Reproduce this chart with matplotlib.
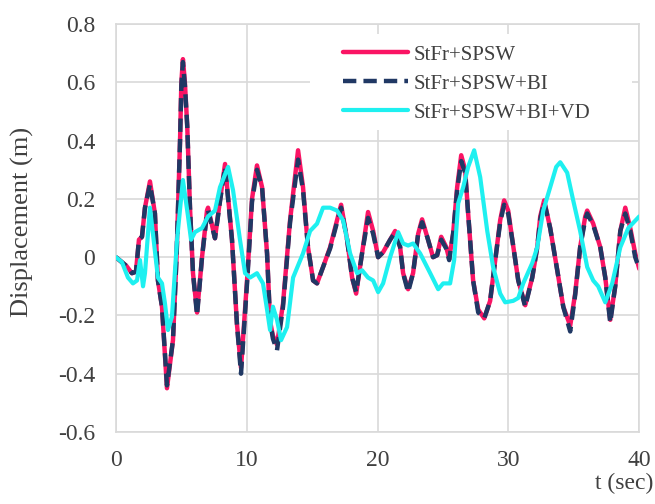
import matplotlib
matplotlib.use('Agg')
import matplotlib.pyplot as plt
from matplotlib.patches import Rectangle

# time (sec) and displacement (m)
t_sw = [0, 0.8, 1.22, 1.53, 1.76, 1.99, 2.22, 2.6, 2.98, 3.21, 3.52, 3.9, 4.36, 4.64,
        4.9, 5.0, 5.12, 5.27, 5.45, 5.66, 5.89, 6.2, 6.58, 6.96, 7.04, 7.57, 7.95, 8.34, 8.87,
        9.25, 9.56, 10.02, 10.4, 10.78, 11.17, 11.55, 11.78, 12.0, 12.31, 12.77, 13.31,
        13.92, 14.3, 14.68, 15.07, 15.37, 15.83, 16.37, 16.9, 17.21, 17.67, 18.05, 18.36,
        18.81, 19.27, 19.66, 20.04, 20.42, 20.96, 21.34, 21.72, 21.95, 22.33, 22.71, 23.1,
        23.4, 23.79, 24.24, 24.55, 24.86, 25.24, 25.47, 25.77, 26.08, 26.39, 26.69, 26.92,
        27.3, 27.69, 28.15, 28.6, 28.99, 29.37, 29.67, 29.98, 30.36, 30.75, 31.28, 31.82,
        32.2, 32.43, 32.73, 33.19, 33.73, 34.19, 34.72, 35.1, 35.48, 35.87, 36.02, 36.48,
        37.02, 37.4, 37.78, 38.16, 38.55, 38.93, 39.31, 39.69, 40.0]

d_sw = [0, -0.03, -0.055, -0.05, 0.06, 0.07, 0.17, 0.26, 0.15, -0.08, -0.17, -0.45, -0.285,
        0.01, 0.40, 0.6, 0.68, 0.6, 0.45, 0.17, -0.055, -0.19, 0.0, 0.16, 0.17, 0.065, 0.195, 0.32,
        0.06, -0.23, -0.38, -0.08, 0.2, 0.315, 0.24, 0.013, -0.22, -0.27, -0.30, -0.16,
        0.127, 0.367, 0.24, 0.034, -0.08, -0.09, -0.034, 0.034, 0.127, 0.18, 0.06, -0.07,
        -0.125, 0.013, 0.155, 0.09, 0.0, 0.017, 0.06, 0.09, 0.035, -0.055, -0.11, -0.055,
        0.08, 0.13, 0.07, 0.0, 0.007, 0.07, 0.035, -0.005, 0.08, 0.24, 0.35, 0.30, 0.15,
        -0.08, -0.18, -0.21, -0.15, -0.01, 0.127, 0.195, 0.16, 0.04, -0.08, -0.165, -0.07,
        0.034, 0.14, 0.195, 0.10, -0.045, -0.17, -0.235, -0.125, 0.034, 0.14, 0.16, 0.115,
        0.034, -0.07, -0.215, -0.10, 0.09, 0.17, 0.10, 0.013, -0.04]

d_bi = [0, -0.03, -0.055, -0.05, 0.06, 0.07, 0.17, 0.25, 0.15, -0.08, -0.17, -0.44, -0.285,
        0.01, 0.40, 0.59, 0.67, 0.59, 0.45, 0.17, -0.055, -0.20, 0.0, 0.15, 0.16, 0.065, 0.19, 0.31,
        0.06, -0.23, -0.40, -0.09, 0.19, 0.30, 0.24, 0.013, -0.22, -0.28, -0.32, -0.17,
        0.12, 0.335, 0.23, 0.034, -0.08, -0.09, -0.034, 0.03, 0.12, 0.17, 0.06, -0.07,
        -0.12, 0.013, 0.135, 0.08, 0.0, 0.017, 0.06, 0.085, 0.035, -0.055, -0.12, -0.055,
        0.08, 0.12, 0.07, 0.0, 0.007, 0.06, 0.03, -0.01, 0.08, 0.23, 0.33, 0.29, 0.15,
        -0.08, -0.19, -0.21, -0.15, -0.01, 0.12, 0.18, 0.15, 0.04, -0.08, -0.17, -0.07,
        0.034, 0.13, 0.19, 0.10, -0.045, -0.17, -0.255, -0.13, 0.034, 0.13, 0.15, 0.11,
        0.034, -0.07, -0.225, -0.10, 0.09, 0.15, 0.09, 0.0, -0.04]

t_vd = [0, 0.46, 0.92, 1.3, 1.61, 1.84, 2.07, 2.22, 2.6, 2.83, 3.21, 3.52, 3.75, 3.98,
        4.28, 4.67, 5.12, 5.51, 5.74, 6.04, 6.58, 7.04, 7.57, 7.95, 8.57, 8.95, 9.48,
        9.87, 10.25, 10.78, 11.24, 11.55, 11.78, 12.0, 12.31, 12.62, 13.08, 13.54, 14.3,
        14.84, 15.37, 15.83, 16.37, 16.9, 17.36, 17.9, 18.43, 18.81, 19.27, 19.66, 20.04,
        20.42, 20.96, 21.57, 21.95, 22.33, 22.71, 23.25, 24.02, 24.63, 25.01, 25.54, 25.85,
        26.16, 26.54, 26.92, 27.38, 27.84, 28.38, 28.83, 29.37, 29.75, 30.36, 30.75, 31.13,
        31.82, 32.2, 32.66, 33.19, 33.65, 33.96, 34.49, 34.95, 35.48, 36.02, 36.48, 36.86,
        37.4, 37.93, 38.55, 39.16, 40.0]

d_vd = [0, -0.017, -0.07, -0.09, -0.08, -0.01, -0.10, -0.055, 0.17, 0.08, -0.07, -0.09,
        -0.16, -0.25, -0.205, 0.06, 0.265, 0.14, 0.06, 0.086, 0.10, 0.14, 0.16, 0.24, 0.31,
        0.23, 0.06, -0.055, -0.07, -0.055, -0.09, -0.18, -0.25, -0.17, -0.215, -0.285,
        -0.24, -0.07, 0.013, 0.09, 0.115, 0.17, 0.17, 0.16, 0.127, 0.013, -0.055, -0.045,
        -0.07, -0.08, -0.12, -0.09, 0.0, 0.086, 0.047, 0.04, 0.047, 0.013, -0.055, -0.11,
        -0.09, -0.09, -0.01, 0.185, 0.24, 0.31, 0.367, 0.275, 0.09, -0.034, -0.125, -0.155,
        -0.15, -0.14, -0.09, -0.02, 0.034, 0.16, 0.24, 0.31, 0.326, 0.29, 0.195, 0.09,
        -0.034, -0.08, -0.10, -0.155, -0.09, 0.034, 0.10, 0.14]

labels = ['StFr+SPSW', 'StFr+SPSW+BI', 'StFr+SPSW+BI+VD']
x_ticks = [0, 10, 20, 30, 40]
y_ticks = [-0.6, -0.4, -0.2, 0, 0.2, 0.4, 0.6, 0.8]

plt.rcParams['font.family'] = ['Liberation Serif', 'DejaVu Serif']

fig = plt.figure(figsize=(6.55, 5.04), dpi=100)
ax = fig.add_axes([0.177, 0.143, 0.799, 0.809])

ax.plot(t_sw, d_sw, color='#fa1464', linewidth=3.2, label=labels[0],
        solid_joinstyle='round', solid_capstyle='round', zorder=2)
ax.plot(t_sw, d_bi, color='#203864', linewidth=3.2, label=labels[1],
        dashes=(3, 1.6), dash_joinstyle='round', zorder=3)
ax.plot(t_vd, d_vd, color='#1ef0f0', linewidth=3.0, label=labels[2],
        solid_joinstyle='round', solid_capstyle='round', zorder=4)

ax.set_xlim(0, 40)
ax.set_ylim(-0.6, 0.8)
ax.set_xticks(x_ticks)
ax.set_yticks(y_ticks)
ax.set_xticklabels([str(v) for v in x_ticks])
ax.set_yticklabels(['0' if v == 0 else f'{v:.1f}' for v in y_ticks])

# excel-like light grid and box
ax.set_axisbelow(True)
ax.grid(True, color='#d9d9d9', linewidth=1.2)
for s in ax.spines.values():
    s.set_color('#d9d9d9')
    s.set_linewidth(1.2)
ax.tick_params(length=0, labelsize=17, colors='#404040')
ax.tick_params(axis='y', pad=15)
ax.tick_params(axis='x', pad=13)

# white patch behind the legend hides the grid there
ax.add_patch(Rectangle((310 / 655, 1 - 130 / 504), 322 / 655, 96 / 504,
                       transform=fig.transFigure, facecolor='white',
                       edgecolor='none', zorder=1))

leg = ax.legend(loc='upper left', bbox_to_anchor=(343 / 655, 1 - 45 / 504),
                bbox_transform=fig.transFigure, frameon=False, fontsize=15,
                handlelength=3.1, handletextpad=0.3, labelspacing=0.45,
                borderpad=0, borderaxespad=0)
for txt in leg.get_texts():
    txt.set_color('#404040')

fig.text(22 / 655, 1 - 222 / 504, 'Displacement (m)', rotation=90, fontsize=19,
         ha='center', va='center', color='#404040')
fig.text(653 / 655, 1 - 483 / 504, 't (sec)', fontsize=17, ha='right', va='center',
         color='#404040')

fig.savefig('out.png', dpi=100)
plt.close(fig)
